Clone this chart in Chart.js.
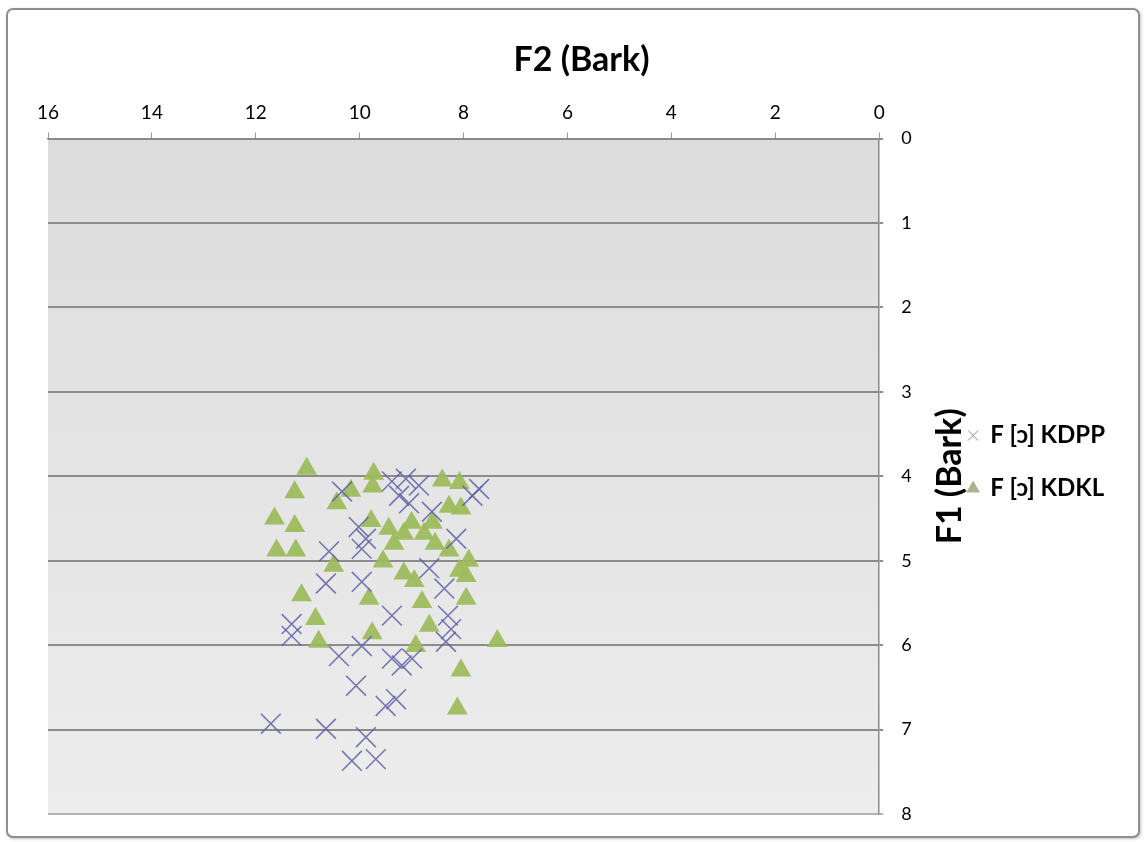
<!DOCTYPE html>
<html>
<head>
<meta charset="utf-8">
<title>F1 / F2 (Bark)</title>
<script src="https://cdn.jsdelivr.net/npm/chart.js@4.4.1/dist/chart.umd.min.js"></script>
<style>
  html, body { margin: 0; background: #fff; }
  #frame {
    position: absolute; left: 6px; top: 8px;
    width: 1130px; height: 826px;
    border: 2px solid #8e8e8e; border-radius: 7px;
    box-shadow: 1px 1px 3px rgba(0,0,0,0.25);
    background: #fff;
  }
  canvas { display: block; }
</style>
</head>
<body>
<div id="frame"><canvas id="chart" width="1130" height="826"></canvas></div>
<script>
// F2 (x) and F1 (y) in Bark
const kdppF2 = [10.34, 9.38, 9.11, 8.86, 9.24, 7.70, 7.83, 8.61, 9.05, 8.14, 9.88, 9.96, 10.59, 10.02,
  10.65, 9.96, 8.66, 8.37, 9.38, 8.30, 8.24, 11.31, 11.31, 10.40, 9.96, 9.38, 9.19, 8.99, 8.34,
  10.07, 9.50, 9.30, 11.71, 10.65, 9.88, 10.15, 9.69];
const kdppF1 = [4.18, 4.06, 4.03, 4.11, 4.23, 4.15, 4.23, 4.42, 4.32, 4.74, 4.74, 4.86, 4.89, 4.60,
  5.27, 5.25, 5.09, 5.33, 5.65, 5.65, 5.81, 5.75, 5.89, 6.13, 6.01, 6.16, 6.24, 6.16, 5.96,
  6.48, 6.72, 6.64, 6.93, 6.99, 7.09, 7.37, 7.35];

const kdklF2 = [11.02, 11.25, 9.73, 9.75, 10.17, 10.44, 8.41, 8.08, 8.05, 11.64, 11.25, 9.78, 9.44,
  9.15, 8.76, 9.00, 8.60, 8.28, 8.55, 9.34, 11.60, 11.23, 10.50, 9.55, 9.15, 8.95, 8.08, 7.95,
  7.90, 8.28, 11.12, 10.85, 10.79, 9.82, 8.80, 7.95, 8.66, 9.76, 8.92, 7.35, 8.05, 8.12];
const kdklF1 = [3.91, 4.19, 3.97, 4.12, 4.17, 4.32, 4.05, 4.08, 4.38, 4.50, 4.59, 4.53, 4.62,
  4.68, 4.68, 4.55, 4.55, 4.36, 4.80, 4.80, 4.88, 4.88, 5.06, 5.01, 5.15, 5.24, 5.12, 5.18,
  5.00, 4.88, 5.41, 5.69, 5.96, 5.45, 5.49, 5.45, 5.77, 5.86, 6.01, 5.95, 6.30, 6.75];

const seriesNames = ['F [ɔ] KDPP', 'F [ɔ] KDKL'];
const f2Ticks = [0, 2, 4, 6, 8, 10, 12, 14, 16];
const f1Ticks = [0, 1, 2, 3, 4, 5, 6, 7, 8];

const FONT = 'Lato, "Open Sans", sans-serif';
const toPoints = (xs, ys) => xs.map((x, i) => ({ x, y: ys[i] }));

const plotBackground = {
  id: 'plotBackground',
  beforeDraw(chart) {
    const { ctx, chartArea: a } = chart;
    const g = ctx.createLinearGradient(0, a.top, 0, a.bottom);
    g.addColorStop(0, '#dcdcdc');
    g.addColorStop(1, '#ededed');
    ctx.save();
    ctx.fillStyle = g;
    ctx.fillRect(a.left, a.top, a.right - a.left, a.bottom - a.top);
    ctx.restore();
  }
};

// right-hand axis title, reading bottom to top
const f1Title = {
  id: 'f1Title',
  afterDraw(chart) {
    const { ctx, chartArea: a } = chart;
    ctx.save();
    ctx.translate(a.right + 71, (a.top + a.bottom) / 2);
    ctx.rotate(-Math.PI / 2);
    ctx.font = 'bold 34px ' + FONT;
    ctx.fillStyle = '#000';
    ctx.textAlign = 'center';
    ctx.textBaseline = 'middle';
    ctx.fillText('F1 (Bark)', 0, 0);
    ctx.restore();
  }
};

new Chart(document.getElementById('chart'), {
  type: 'scatter',
  data: {
    datasets: [
      {
        label: seriesNames[0],
        data: toPoints(kdppF2, kdppF1),
        pointStyle: 'crossRot',
        pointRadius: 14,
        pointBorderWidth: 1.6,
        borderColor: 'rgba(98, 98, 168, 0.85)',
        backgroundColor: 'rgba(98, 98, 168, 0.85)'
      },
      {
        label: seriesNames[1],
        data: toPoints(kdklF2, kdklF1),
        pointStyle: 'triangle',
        pointRadius: 12,
        pointBorderWidth: 0,
        borderColor: 'rgba(155, 187, 89, 0.92)',
        backgroundColor: 'rgba(155, 187, 89, 0.92)'
      }
    ]
  },
  options: {
    responsive: false,
    animation: false,
    layout: { padding: { left: 40, right: 23, top: 0, bottom: 22 } },
    plugins: {
      title: {
        display: true,
        text: 'F2 (Bark)',
        color: '#000',
        font: { family: FONT, size: 34, weight: 'bold' },
        padding: { top: 30, bottom: 13 }
      },
      legend: {
        position: 'right',
        title: { display: true, text: ' ', font: { size: 10 }, padding: { top: 88, bottom: 0 } },
        labels: {
          usePointStyle: true,
          boxWidth: 10,
          boxHeight: 10,
          padding: 29,
          color: '#000',
          font: { family: FONT, size: 24, weight: 'bold' },
          generateLabels(chart) {
            return chart.data.datasets.map((ds, i) => ({
              text: ds.label,
              fontColor: '#000',
              pointStyle: ds.pointStyle,
              fillStyle: i === 0 ? '#8a8a8a' : '#a9b48c',
              strokeStyle: i === 0 ? '#8a8a8a' : '#a9b48c',
              lineWidth: 1,
              datasetIndex: i
            }));
          }
        }
      },
      tooltip: { enabled: false }
    },
    scales: {
      x: {
        position: 'top',
        reverse: true,
        min: 0,
        max: 16,
        afterBuildTicks: s => { s.ticks = f2Ticks.map(v => ({ value: v })); },
        grid: { drawOnChartArea: false, drawTicks: true, tickLength: 6, color: '#9a9a9a' },
        border: { color: '#8a8a8a', width: 1.5 },
        ticks: { color: '#000', padding: 8, maxRotation: 0, font: { family: FONT, size: 19 } }
      },
      y: {
        position: 'right',
        reverse: true,
        min: 0,
        max: 8,
        afterBuildTicks: s => { s.ticks = f1Ticks.map(v => ({ value: v })); },
        afterFit: s => { s.width = 60; s.paddingTop = 11; s.paddingBottom = 11; },
        grid: {
          color: ctx => (ctx.tick && ctx.tick.value === 8 ? '#b4b4b4' : '#8c8c8c'),
          lineWidth: 2,
          tickLength: 4
        },
        border: { color: '#8a8a8a', width: 1.5 },
        ticks: { color: '#000', padding: 18, font: { family: FONT, size: 18 } }
      }
    }
  },
  plugins: [plotBackground, f1Title]
});
</script>
</body>
</html>
